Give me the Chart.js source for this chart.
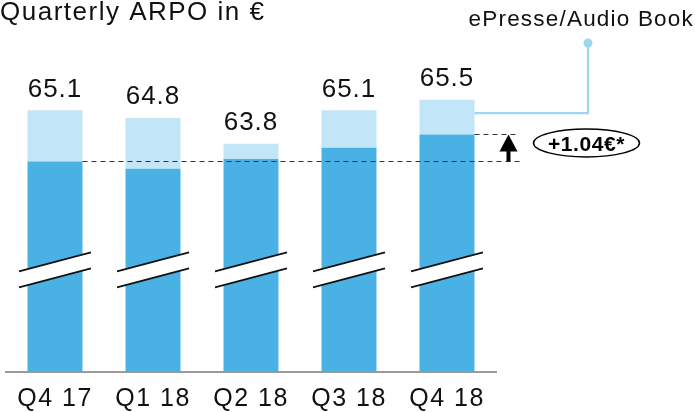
<!DOCTYPE html>
<html>
<head>
<meta charset="utf-8">
<script src="https://cdn.jsdelivr.net/npm/chart.js@4"></script>
<style>
  html, body { margin: 0; padding: 0; background: #ffffff; }
  #wrap { width: 695px; height: 412px; position: relative; }
</style>
</head>
<body>
<div id="wrap"><canvas id="chart"></canvas></div>
<script>
// Quarterly ARPO (€): total per quarter and the part before ePresse/Audio Book
const quarters = ['Q4 17', 'Q1 18', 'Q2 18', 'Q3 18', 'Q4 18'];
const totalArpo = [65.1, 64.8, 63.8, 65.1, 65.5];
const baseArpo = [63.12, 62.84, 63.22, 63.65, 64.16];
const upliftLabel = '+1.04€*';
const addOnLabel = 'ePresse/Audio Book';
const chartTitle = 'Quarterly ARPO in €';

const DARK = '#4ab1e4';
const LIGHT = '#c2e5f7';
const LEADER = '#9dd5f2';
const FONT = '"Liberation Sans", Arial, Helvetica, sans-serif';

// the part of each bar above the base, as a floating range
const addOnRanges = baseArpo.map((b, i) => [b, totalArpo[i]]);

const overlay = {
  id: 'overlay',
  beforeDraw(chart) {
    chart.ctx.letterSpacing = '1.5px';
  },
  afterDatasetsDraw(chart, args, opts) {
    const ctx = chart.ctx;
    const y = chart.scales.y;
    const bars = chart.getDatasetMeta(0).data;
    ctx.save();

    // axis-break marks across every bar
    const yb = y.getPixelForValue(opts.breakAt);
    bars.forEach(bar => {
      const cx = bar.x, half = 36, rise = 9.5, gap = 8;
      ctx.beginPath();
      ctx.moveTo(cx - half, yb + rise - gap);
      ctx.lineTo(cx + half, yb - rise - gap);
      ctx.lineTo(cx + half, yb - rise + gap);
      ctx.lineTo(cx - half, yb + rise + gap);
      ctx.closePath();
      ctx.fillStyle = '#ffffff';
      ctx.fill();
      ctx.strokeStyle = '#111111';
      ctx.lineWidth = 1.6;
      ctx.beginPath();
      ctx.moveTo(cx - half, yb + rise - gap);
      ctx.lineTo(cx + half, yb - rise - gap);
      ctx.moveTo(cx - half, yb + rise + gap);
      ctx.lineTo(cx + half, yb - rise + gap);
      ctx.stroke();
    });

    // dashed reference lines at the first and last base level
    const first = bars[0], last = bars[bars.length - 1];
    const yFirst = y.getPixelForValue(baseArpo[0]);
    const yLast = y.getPixelForValue(baseArpo[baseArpo.length - 1]);
    const lineEnd = last.x + last.width / 2 + 45;
    ctx.setLineDash([5, 4]);
    ctx.strokeStyle = '#333333';
    ctx.lineWidth = 1.2;
    ctx.beginPath();
    ctx.moveTo(first.x + first.width / 2, yFirst);
    ctx.lineTo(lineEnd, yFirst);
    ctx.moveTo(last.x + last.width / 2, yLast);
    ctx.lineTo(lineEnd, yLast);
    ctx.stroke();
    ctx.setLineDash([]);

    // upward arrow between the two lines
    const ax = last.x + last.width / 2 + 34;
    ctx.fillStyle = '#000000';
    ctx.fillRect(ax - 2, yLast + 16, 4, yFirst - yLast - 16);
    ctx.beginPath();
    ctx.moveTo(ax, yLast);
    ctx.lineTo(ax + 9, yLast + 17);
    ctx.lineTo(ax - 9, yLast + 17);
    ctx.closePath();
    ctx.fill();

    // uplift bubble
    const ex = 586.5, ey = (yFirst + yLast) / 2 - 5;
    ctx.beginPath();
    ctx.ellipse(ex, ey, 53, 14, 0, 0, Math.PI * 2);
    ctx.lineWidth = 1.5;
    ctx.strokeStyle = '#000000';
    ctx.stroke();
    ctx.letterSpacing = '0.6px';
    ctx.font = 'bold 21px ' + FONT;
    ctx.textAlign = 'center';
    ctx.textBaseline = 'alphabetic';
    ctx.fillText(upliftLabel, ex, ey + 8);

    // leader from the add-on segment to its label
    const lx = last.x + last.width / 2;
    const ly = y.getPixelForValue((baseArpo[4] + totalArpo[4]) / 2) - 4;
    const tx = 588;
    ctx.strokeStyle = LEADER;
    ctx.lineWidth = 2.2;
    ctx.beginPath();
    ctx.moveTo(lx, ly);
    ctx.lineTo(tx, ly);
    ctx.lineTo(tx, 43);
    ctx.stroke();
    ctx.fillStyle = LEADER;
    ctx.beginPath();
    ctx.arc(tx, 43, 4.5, 0, Math.PI * 2);
    ctx.fill();
    ctx.fillStyle = '#111111';
    ctx.letterSpacing = '1.2px';
    ctx.font = '22.5px ' + FONT;
    ctx.textAlign = 'right';
    ctx.fillText(addOnLabel, 694, 26);

    // totals above the bars
    ctx.letterSpacing = '1px';
    ctx.font = '26px ' + FONT;
    ctx.textAlign = 'center';
    bars.forEach((bar, i) => {
      const top = y.getPixelForValue(totalArpo[i]);
      ctx.fillText(totalArpo[i].toFixed(1), bar.x, top - 13.5);
    });

    // title
    ctx.letterSpacing = '1.5px';
    ctx.font = '26px ' + FONT;
    ctx.textAlign = 'left';
    ctx.fillText(chartTitle, 0, 20);

    ctx.restore();
  }
};

new Chart(document.getElementById('chart'), {
  type: 'bar',
  data: {
    labels: quarters,
    datasets: [
      { label: 'Base', data: baseArpo, backgroundColor: DARK, grouped: false,
        categoryPercentage: 1, barPercentage: 0.561, borderWidth: 0 },
      { label: addOnLabel, data: addOnRanges, backgroundColor: LIGHT, grouped: false,
        categoryPercentage: 1, barPercentage: 0.561, borderWidth: 0 }
    ]
  },
  options: {
    responsive: true,
    maintainAspectRatio: false,
    animation: false,
    events: [],
    layout: { padding: { left: 6, right: 199, top: 22, bottom: 0 } },
    plugins: {
      legend: { display: false },
      tooltip: { enabled: false },
      overlay: { breakAt: 58.94 }
    },
    scales: {
      x: {
        grid: { display: false, drawTicks: false },
        border: { display: true, color: '#9a9a9a', width: 2 },
        ticks: { color: '#111111', padding: 15,
                 font: { family: FONT, size: 25, lineHeight: 1 } },
        afterFit(scale) { scale.height = 40; }
      },
      y: {
        display: false,
        min: 55,
        max: 68.5
      }
    }
  },
  plugins: [overlay]
});
</script>
</body>
</html>
